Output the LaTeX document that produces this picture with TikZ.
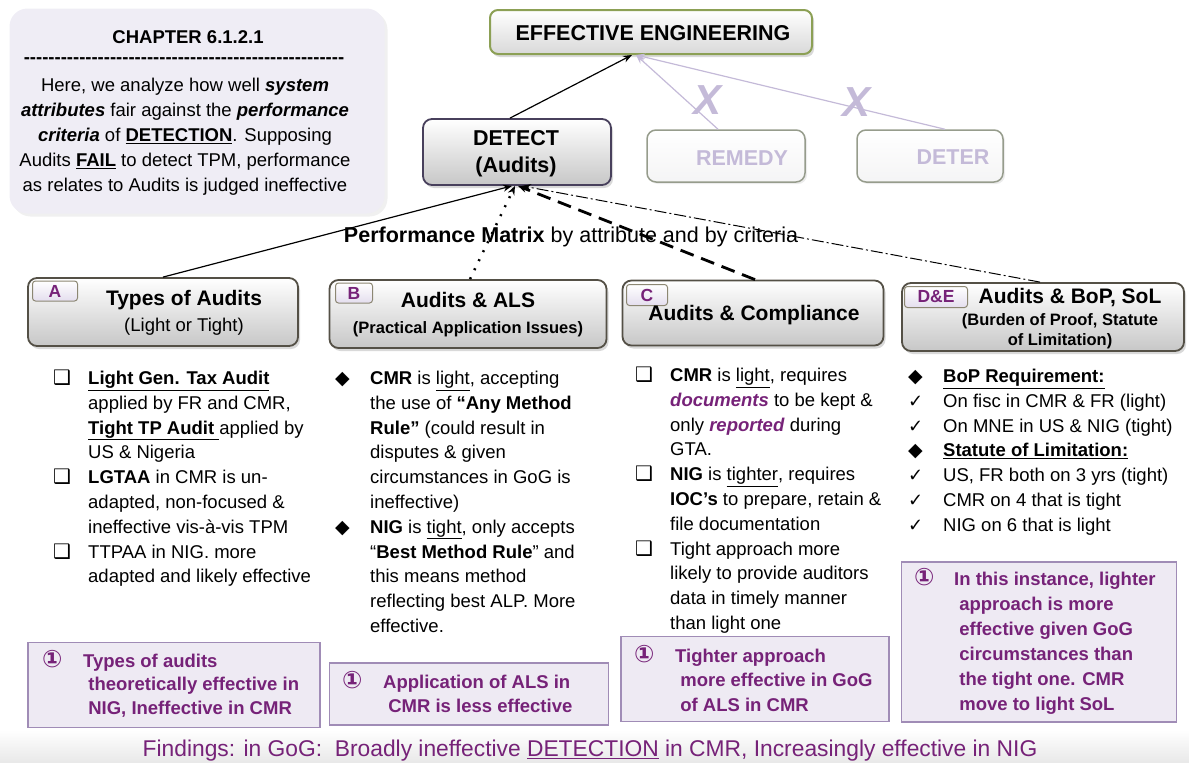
\documentclass[tikz,border=0pt]{standalone}
\usepackage{fontspec}
\setmainfont{Liberation Sans}
\newfontfamily\symfont{DejaVu Sans}
\usetikzlibrary{arrows.meta,shadows}

\definecolor{plum}{RGB}{118,34,120}
\definecolor{lav}{RGB}{196,186,216}
\definecolor{lavbg}{RGB}{239,237,245}
\definecolor{notefill}{RGB}{238,234,243}
\definecolor{notedge}{RGB}{160,140,182}
\definecolor{eegreen}{RGB}{140,160,85}
\definecolor{boxedge}{RGB}{84,80,70}
\definecolor{detedge}{RGB}{72,64,92}
\definecolor{fadeedge}{RGB}{150,156,140}
\definecolor{tagedge}{RGB}{140,135,115}
\definecolor{tagfill}{RGB}{228,222,238}

\newcommand\bul[1]{\makebox[35pt][l]{#1}}
\newcommand\boxbul{{\symfont\fontsize{20}{20}\selectfont ❑}}
\newcommand\diabul{{\symfont\fontsize{19}{19}\selectfont ◆}}
\newcommand\tickbul{{\symfont\fontsize{18}{18}\selectfont ✓}}
\newcommand\circone{\makebox[41pt][l]{\symfont\fontsize{24}{24}\selectfont ①}}

\begin{document}
\begin{tikzpicture}[x=1pt,y=-1pt,
	every node/.style={inner sep=0pt},
	txt/.style={font=\fontsize{18.5}{24.8}\selectfont},
	head/.style={draw=boxedge, line width=1.8pt, rounded corners=9pt, top color=white, bottom color=black!22,
		drop shadow={opacity=.3, shadow xshift=2pt, shadow yshift=-3pt}},
	tag/.style={draw=tagedge, line width=1pt, rounded corners=3pt, top color=white, bottom color=tagfill,
		text=plum, font=\fontsize{17.5}{17.5}\selectfont\bfseries},
	faded/.style={draw=fadeedge, line width=1.5pt, rounded corners=9pt, top color=white, bottom color=lavbg!70!black!12,
		drop shadow={opacity=.15, shadow xshift=2pt, shadow yshift=-2pt}},
	note/.style={draw=notedge, fill=notefill, line width=1.2pt},
	notetxt/.style={anchor=north west, text=plum, font=\fontsize{18.5}{24.5}\selectfont\bfseries},
	link/.style={-{Stealth[length=9pt,width=7pt]}, line width=1.2pt},
	fadelink/.style={-{Stealth[length=9pt,width=7pt]}, line width=1.2pt, draw=lav},
	cross/.style={text=lav, font=\fontsize{42}{42}\selectfont\bfseries\itshape}
]
\useasboundingbox (0,0) rectangle (1189,763);

% chapter note
\node[fill=lavbg, rounded corners=18pt, minimum width=375pt, minimum height=205pt,
	drop shadow={opacity=.12, shadow xshift=3pt, shadow yshift=-3pt}] (intro) at (197,111) {};
\node[font=\fontsize{18.5}{20}\selectfont\bfseries] (chap) at (188,37) {CHAPTER 6.1.2.1};
\node[font=\fontsize{18.5}{20}\selectfont\bfseries] (rule) at (184,61) {\foreach \i in {1,...,52}{-\kern0pt}};
\node[txt, align=center, font=\fontsize{18.5}{25}\selectfont] (aim) at (185,137)
	{Here, we analyze how well \textbf{\textit{system}}\\
	\textbf{\textit{attributes}} fair against the \textbf{\textit{performance}}\\
	\textbf{\textit{criteria}} of \textbf{\underline{DETECTION}}. Supposing\\
	Audits \textbf{\underline{FAIL}} to detect TPM, performance\\
	as relates to Audits is judged ineffective};

% top of the tree
\node[draw=eegreen, line width=2pt, rounded corners=8pt, top color=white, bottom color=black!15,
	minimum width=322pt, minimum height=44pt,
	drop shadow={opacity=.3, shadow xshift=2pt, shadow yshift=-3pt}] (ee) at (651,32) {};
\node[font=\fontsize{21.5}{21.5}\selectfont\bfseries] (eet) at (653,33) {EFFECTIVE ENGINEERING};
\node[head, draw=detedge, minimum width=188pt, minimum height=66pt] (det) at (517,152) {};
\node[align=center, font=\fontsize{21.5}{27}\selectfont\bfseries] (dett) at (516,154) {DETECT\\(Audits)};
\node[faded, minimum width=158pt, minimum height=52pt] (rem) at (726,156) {};
\node[text=lav, font=\fontsize{21.5}{21.5}\selectfont\bfseries] (remt) at (742,158) {REMEDY};
\node[faded, minimum width=146pt, minimum height=52pt] (dtr) at (930,156) {};
\node[text=lav, font=\fontsize{21.5}{21.5}\selectfont\bfseries] (dtrt) at (953,157) {DETER};

\draw[link] ([xshift=-7pt]det.north) -- ([xshift=-19pt]ee.south);
\draw[fadelink] ([xshift=-8pt]rem.north) -- ([xshift=-15pt]ee.south);
\draw[fadelink] ([xshift=15pt]dtr.north) -- ([xshift=-15pt]ee.south);
\node[cross] (crossr) at (707,100) {X};
\node[cross] (crossd) at (856,102) {X};

\node[font=\fontsize{21.5}{24}\selectfont] (pm) at (571,237) {\textbf{Performance Matrix} by attribute and by criteria};

% attribute headers
\node[head, minimum width=270pt, minimum height=68pt] (hA) at (163,312) {};
\node[head, minimum width=277pt, minimum height=68pt] (hB) at (468,314) {};
\node[head, minimum width=261pt, minimum height=65pt] (hC) at (753,313) {};
\node[head, minimum width=282pt, minimum height=68pt] (hD) at (1043,317) {};
\node[tag, minimum width=45pt, minimum height=20pt] (tA) at (55,291) {A};
\node[tag, minimum width=37pt, minimum height=20pt] (tB) at (354,293) {B};
\node[tag, minimum width=41pt, minimum height=21pt] (tC) at (647,295) {C};
\node[tag, minimum width=63pt, minimum height=21pt] (tD) at (936,297) {D\&E};
\node[align=center, font=\fontsize{18.5}{26}\selectfont] (nA) at (184,313)
	{{\fontsize{21}{26}\selectfont\bfseries Types of Audits}\\(Light or Tight)};
\node[align=center, font=\fontsize{16.5}{26}\selectfont\bfseries] (nB) at (468,315)
	{{\fontsize{21}{26}\selectfont Audits \& ALS}\\(Practical Application Issues)};
\node[font=\fontsize{21}{26}\selectfont\bfseries] (nC) at (754,315) {Audits \& Compliance};
\node[font=\fontsize{21}{26}\selectfont\bfseries] (nD) at (1070,298) {Audits \& BoP, SoL};
\node[align=center, font=\fontsize{16.5}{20}\selectfont\bfseries] (sD) at (1060,331)
	{(Burden of Proof, Statute\\of Limitation)};

\draw[link] (hA.north) -- ([xshift=-5pt]det.south);
\draw[link, line width=2.5pt, dash pattern=on 2pt off 8pt] ([xshift=2pt]hB.north) -- ([xshift=-2pt]det.south);
\draw[link, line width=2.8pt, dash pattern=on 14pt off 8pt] ([xshift=2pt]hC.north) -- ([xshift=1pt]det.south);
\draw[link, line width=1pt, dash pattern=on 12pt off 3pt on 2pt off 3pt] ([xshift=-3pt]hD.north) -- ([xshift=5pt]det.south);

% bullet columns
\node[txt, anchor=north west] (colA) at (53,367) {\begin{tabular}{@{}l@{}l@{}}
	\bul{\boxbul} & \textbf{\underline{Light Gen. Tax Audit}}\\
	& applied by FR and CMR,\\
	& \textbf{\underline{Tight TP Audit\ }}applied by\\
	& US \& Nigeria\\
	\bul{\boxbul} & \textbf{LGTAA} in CMR is un-\\
	& adapted, non-focused \&\\
	& ineffective vis-à-vis TPM\\
	\bul{\boxbul} & TTPAA in NIG. more\\
	& adapted and likely effective
	\end{tabular}};
\node[txt, anchor=north west] (colB) at (335,367) {\begin{tabular}{@{}l@{}l@{}}
	\bul{\diabul} & \textbf{CMR} is \underline{light}, accepting\\
	& the use of \textbf{“Any Method}\\
	& \textbf{Rule”} (could result in\\
	& disputes \& given\\
	& circumstances in GoG is\\
	& ineffective)\\
	\bul{\diabul} & \textbf{NIG} is \underline{tight}, only accepts\\
	& “\textbf{Best Method Rule}” and\\
	& this means method\\
	& reflecting best ALP. More\\
	& effective.
	\end{tabular}};
\node[txt, anchor=north west] (colC) at (635,364) {\begin{tabular}{@{}l@{}l@{}}
	\bul{\boxbul} & \textbf{CMR} is \underline{light}, requires\\
	& \textcolor{plum}{\textbf{\textit{documents}}} to be kept \&\\
	& only \textcolor{plum}{\textbf{\textit{reported}}} during\\
	& GTA.\\
	\bul{\boxbul} & \textbf{NIG} is \underline{tighter}, requires\\
	& \textbf{IOC’s} to prepare, retain \&\\
	& file documentation\\
	\bul{\boxbul} & Tight approach more\\
	& likely to provide auditors\\
	& data in timely manner\\
	& than light one
	\end{tabular}};
\node[txt, anchor=north west] (colD) at (908,365) {\begin{tabular}{@{}l@{}l@{}}
	\bul{\diabul} & \textbf{\underline{BoP Requirement:}}\\
	\bul{\tickbul} & On fisc in CMR \& FR (light)\\
	\bul{\tickbul} & On MNE in US \& NIG (tight)\\
	\bul{\diabul} & \textbf{\underline{Statute of Limitation:}}\\
	\bul{\tickbul} & US, FR both on 3 yrs (tight)\\
	\bul{\tickbul} & CMR on 4 that is tight\\
	\bul{\tickbul} & NIG on 6 that is light
	\end{tabular}};

% judgements
\node[note, minimum width=292pt, minimum height=85pt] (jA) at (174,685) {};
\node[note, minimum width=279pt, minimum height=62pt] (jB) at (469,694) {};
\node[note, minimum width=268pt, minimum height=85pt] (jC) at (755,679) {};
\node[note, minimum width=275pt, minimum height=160pt] (jD) at (1039,642) {};
\node[notetxt, font=\fontsize{18.5}{23.5}\selectfont\bfseries] (kA) at (42,650) {\begin{tabular}{@{}l@{}l@{}}
	\circone & Types of audits\\
	& \ theoretically effective in\\
	& \ NIG, Ineffective in CMR
	\end{tabular}};
\node[notetxt, font=\fontsize{18.5}{24}\selectfont\bfseries] (kB) at (342,671) {\begin{tabular}{@{}l@{}l@{}}
	\circone & Application of ALS in\\
	& \ CMR is less effective
	\end{tabular}};
\node[notetxt] (kC) at (634,645) {\begin{tabular}{@{}l@{}l@{}}
	\circone & Tighter approach\\
	& \ more effective in GoG\\
	& \ of ALS in CMR
	\end{tabular}};
\node[notetxt, font=\fontsize{18.5}{25}\selectfont\bfseries] (kD) at (914,568) {\begin{tabular}{@{}l@{}l@{}}
	\makebox[40pt][l]{\symfont\fontsize{24}{24}\selectfont ①} & In this instance, lighter\\
	& \ approach is more\\
	& \ effective given GoG\\
	& \ circumstances than\\
	& \ the tight one. CMR\\
	& \ move to light SoL
	\end{tabular}};

% findings
\shade[top color=white, bottom color=black!9] (0,730) rectangle (1189,763);
\node[text=plum, font=\fontsize{22.8}{23}\selectfont] (find) at (590,751)
	{Findings: in GoG:\ \ Broadly ineffective \underline{DETECTION} in CMR, Increasingly effective in NIG};
\end{tikzpicture}
\end{document}
